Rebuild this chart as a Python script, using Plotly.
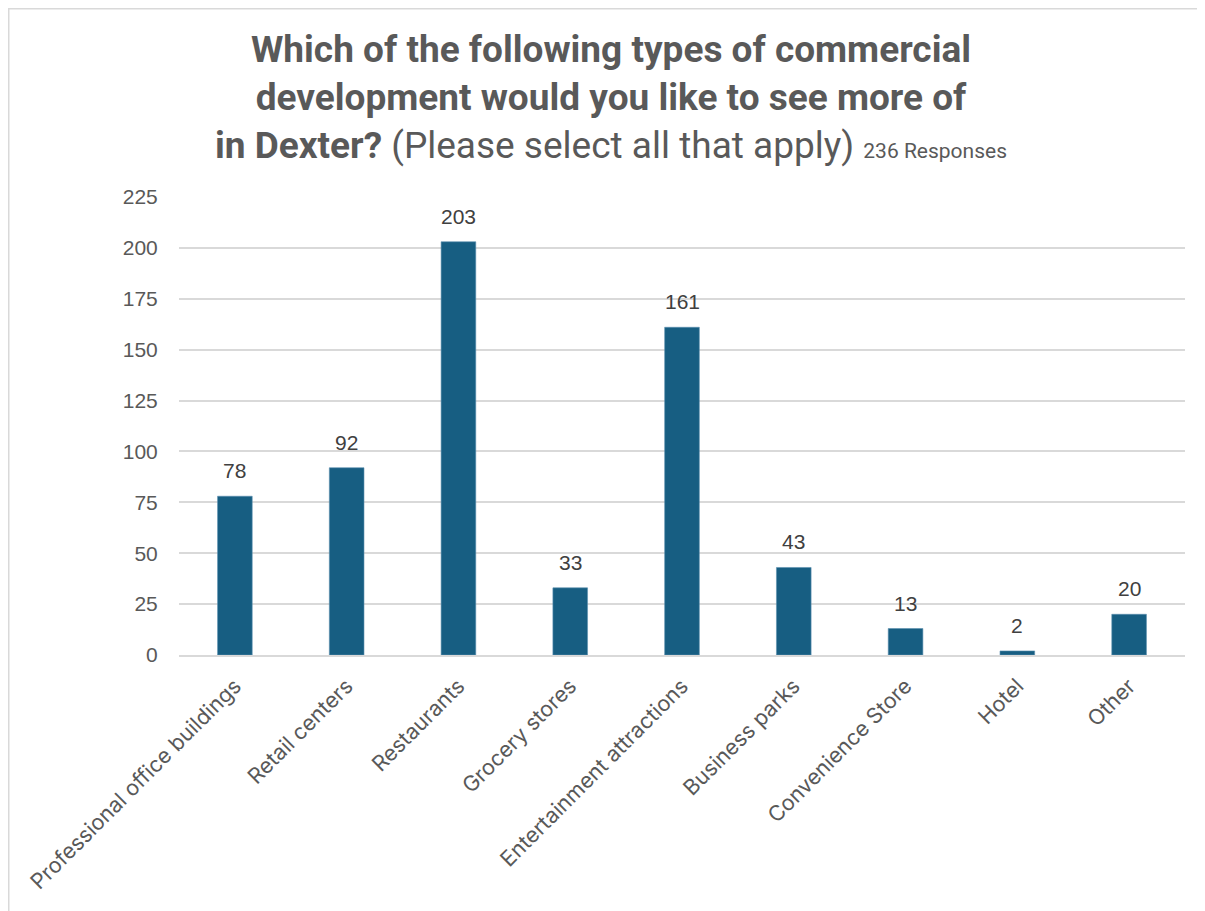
import plotly.graph_objects as go

categories = ["Professional office buildings", "Retail centers", "Restaurants", "Grocery stores",
              "Entertainment attractions", "Business parks", "Convenience Store", "Hotel", "Other"]
responses = [78, 92, 203, 33, 161, 43, 13, 2, 20]
y_ticks = [0, 25, 50, 75, 100, 125, 150, 175, 200, 225]

BAR = "#175e82"
TXT = "#595959"

# the page body has an 8px margin, so the figure sits at (8, 8)
W, H = 1197, 903
L, R, T, B = 171, 20, 189, 256
pw, ph = W - L - R, H - T - B

def px_x(p):
    return (p - L) / pw

def px_y(p):
    return (H - B - p) / ph

fig = go.Figure(go.Bar(
    x=categories, y=responses, width=0.31,
    marker=dict(color=BAR, line=dict(color="#5b8fae", width=0.6)),
    hoverinfo="x+y",
))

for c, v in zip(categories, responses):
    fig.add_annotation(x=c, y=v, text=str(v), showarrow=False, yanchor="bottom", yshift=12,
                       font=dict(family="Liberation Sans, Arial", size=21, color="#404040"))

fig.update_layout(
    width=W, height=H,
    margin=dict(l=L, r=R, t=T, b=B),
    paper_bgcolor="white", plot_bgcolor="white",
    showlegend=False,
    xaxis=dict(tickangle=-45, tickfont=dict(family="Inter, Noto Sans", size=21.5, color=TXT),
               showgrid=False, showline=True, linecolor="#d9d9d9", linewidth=2,
               ticks="outside", ticklen=8, tickcolor="rgba(0,0,0,0)"),
    yaxis=dict(range=[0, 225], tickvals=y_ticks, tickfont=dict(family="Liberation Sans, Arial", size=21, color=TXT),
               showgrid=True, gridcolor="#d9d9d9", gridwidth=2, zeroline=False, showline=False,
               ticks="outside", tickcolor="rgba(0,0,0,0)", ticklen=16),
)

fig.add_annotation(
    xref="paper", yref="paper", x=px_x(603), y=px_y(18), xanchor="center", yanchor="top",
    showarrow=False, align="center",
    text=("<b>Which of the following types of commercial</b><br>"
          "<b>development would you like to see more of</b><br>"
          "<b>in Dexter?</b> (Please select all that apply) <span style='font-size:21px'>236 Responses</span>"),
    font=dict(family="Roboto, Liberation Sans", size=37, color=TXT),
)

# chart frame (left and top edges visible)
fig.add_shape(type="rect", xref="paper", yref="paper",
              x0=px_x(0), x1=px_x(W + 10), y0=px_y(H + 10), y1=px_y(0),
              line=dict(color="#d9d9d9", width=3), fillcolor="rgba(0,0,0,0)", layer="below")

fig.write_html("out.html")
